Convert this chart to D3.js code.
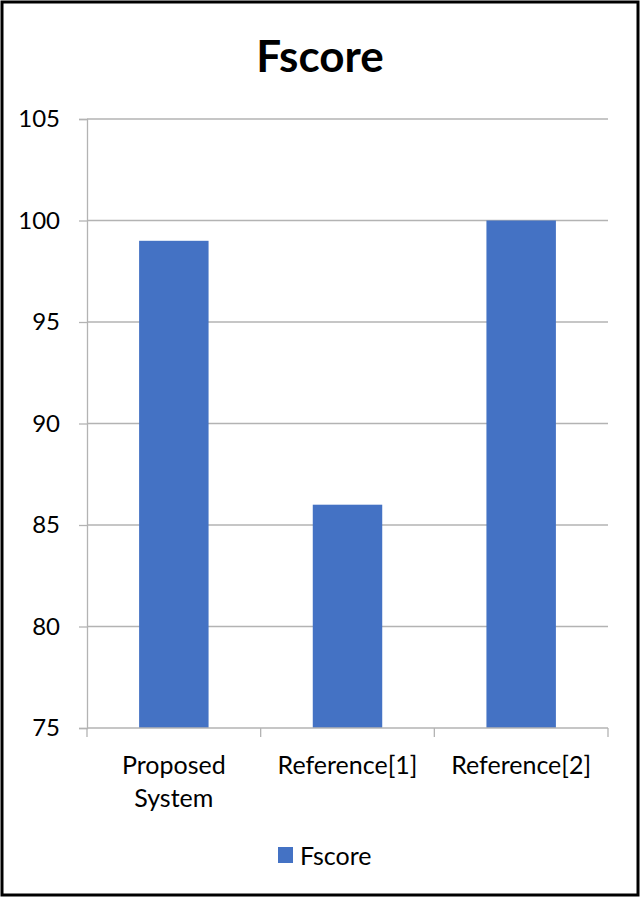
<!DOCTYPE html>
<html>
<head>
<meta charset="utf-8">
<script src="https://cdn.jsdelivr.net/npm/d3@7"></script>
<style>
  body { margin: 0; background: #fff; }
  text { font-family: Lato, "Open Sans", sans-serif; }
</style>
</head>
<body>
<svg id="chart" width="640" height="897"></svg>
<script>
// chart data
const categories = [['Proposed', 'System'], ['Reference[1]'], ['Reference[2]']];
const fscore = [99, 86, 100];
const yTicks = [75, 80, 85, 90, 95, 100, 105];
const seriesName = 'Fscore';

const width = 640;
const height = 897;
const margin = { top: 119, right: 32, bottom: 169, left: 87 };

const svg = d3.select('#chart');

// outer frame
svg.append('rect')
  .attr('x', 2).attr('y', 2)
  .attr('width', width - 4).attr('height', height - 4)
  .attr('fill', '#fff')
  .attr('stroke', '#000')
  .attr('stroke-width', 3);

const x = d3.scaleBand()
  .domain(d3.range(categories.length))
  .range([margin.left, width - margin.right])
  .paddingInner(0.6)
  .paddingOuter(0.3);

const y = d3.scaleLinear()
  .domain([75, 105])
  .range([height - margin.bottom, margin.top]);

// gridlines
svg.append('g')
  .selectAll('line')
  .data(yTicks.slice(1))
  .enter()
  .append('line')
  .attr('x1', margin.left)
  .attr('x2', width - margin.right)
  .attr('y1', d => y(d))
  .attr('y2', d => y(d))
  .attr('stroke', '#b3b3b3')
  .attr('stroke-width', 1.3);

// y axis
const yAxis = svg.append('g')
  .attr('transform', `translate(${margin.left},0)`)
  .call(d3.axisLeft(y).tickValues(yTicks).tickSize(8).tickPadding(19));
yAxis.select('.domain').attr('stroke', '#b3b3b3').attr('stroke-width', 1.3);
yAxis.selectAll('.tick line').attr('stroke', '#b3b3b3').attr('stroke-width', 1.3);
yAxis.selectAll('.tick text')
  .attr('fill', '#000')
  .style('font-size', '24px');

// bars
svg.append('g')
  .selectAll('rect')
  .data(fscore)
  .enter()
  .append('rect')
  .attr('x', (d, i) => x(i))
  .attr('y', d => y(d))
  .attr('width', x.bandwidth())
  .attr('height', d => y(75) - y(d))
  .attr('fill', '#4472c4');

// x axis line + category ticks
const xBase = y(75);
svg.append('line')
  .attr('x1', margin.left).attr('x2', width - margin.right)
  .attr('y1', xBase).attr('y2', xBase)
  .attr('stroke', '#b3b3b3').attr('stroke-width', 1.3);

const bounds = d3.range(categories.length + 1)
  .map(i => margin.left + (width - margin.left - margin.right) * i / categories.length);
svg.append('g')
  .selectAll('line')
  .data(bounds)
  .enter()
  .append('line')
  .attr('x1', d => d).attr('x2', d => d)
  .attr('y1', xBase).attr('y2', xBase + 9)
  .attr('stroke', '#b3b3b3').attr('stroke-width', 1.3);

// category labels
const labels = svg.append('g')
  .selectAll('text')
  .data(categories)
  .enter()
  .append('text')
  .attr('x', (d, i) => x(i) + x.bandwidth() / 2)
  .attr('y', xBase + 46)
  .attr('text-anchor', 'middle')
  .style('font-size', '25px')
  .attr('fill', '#000');
labels.selectAll('tspan')
  .data(d => d)
  .enter()
  .append('tspan')
  .attr('x', function () { return d3.select(this.parentNode).attr('x'); })
  .attr('dy', (d, i) => i === 0 ? 0 : 33)
  .text(d => d);

// title
svg.append('text')
  .attr('x', width / 2)
  .attr('y', 72)
  .attr('text-anchor', 'middle')
  .style('font-size', '44px')
  .style('font-weight', 'bold')
  .text(seriesName);

// legend
svg.append('rect')
  .attr('x', 278).attr('y', 847)
  .attr('width', 15).attr('height', 16)
  .attr('fill', '#4472c4');
svg.append('text')
  .attr('x', 300).attr('y', 865)
  .style('font-size', '25px')
  .text(seriesName);
</script>
</body>
</html>
